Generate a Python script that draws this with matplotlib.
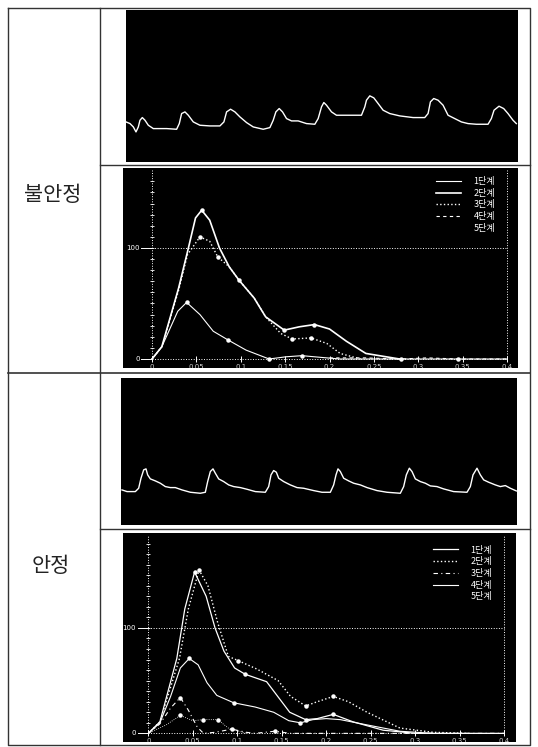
import numpy as np
import matplotlib
matplotlib.use("Agg")
from matplotlib import pyplot as plt
from matplotlib.lines import Line2D

plt.rcParams['font.family'] = ['Noto Sans CJK KR', 'DejaVu Sans']

W, H = 538, 747

# row labels
row_labels = ["불안정", "안정"]
stage_labels = ["1단계", "2단계", "3단계", "4단계", "5단계"]
x_tick_labels = ["0", "0.05", "0.1", "0.15", "0.2", "0.25", "0.3", "0.35", "0.4"]

# pulse wave, unstable (samples, amplitude)
t_wave1 = [78, 90, 100, 108, 115, 120, 127, 135, 145, 160, 175, 200, 230, 238, 245, 255, 265, 280,
           300, 330, 360, 372, 380, 392, 405, 420, 440, 460, 490, 510, 520, 528, 538, 548, 560, 575,
           595, 620, 645, 655, 665, 672, 680, 695, 710, 730, 760, 785, 795, 800, 810, 822, 835, 850,
           870, 900, 940, 975, 985, 992, 1002, 1015, 1030, 1045, 1065, 1085, 1105, 1130, 1165, 1175,
           1183, 1198, 1212, 1225, 1240, 1250]
a_wave1 = [120, 115, 105, 90, 105, 125, 133, 125, 110, 100, 100, 100, 98, 115, 145, 150, 140, 120,
           110, 108, 108, 120, 150, 158, 150, 135, 118, 105, 98, 103, 125, 150, 160, 150, 130, 123,
           123, 115, 113, 130, 165, 178, 170, 150, 140, 140, 140, 140, 165, 185, 198, 192, 175, 155,
           145, 138, 133, 133, 145, 180, 190, 185, 170, 140, 130, 120, 115, 113, 113, 130,
           155, 167, 160, 145, 125, 115]

# pulse wave, stable
t_wave2 = [65, 80, 105, 115, 122, 130, 137, 142, 150, 165, 180, 195, 210, 225, 245, 270, 300, 315,
           322, 330, 338, 345, 355, 370, 385, 400, 420, 440, 465, 495, 505, 512, 520, 528, 535, 550,
           570, 590, 610, 640, 665, 690, 700, 707, 713, 720, 730, 745, 760, 780, 800, 830, 860, 900,
           910, 918, 927, 935, 945, 960, 975, 990, 1010, 1030, 1060, 1100, 1110, 1118, 1130, 1140,
           1150, 1165, 1185, 1200, 1215, 1230, 1248]
a_wave2 = [105, 100, 100, 110, 140, 165, 168, 150, 138, 132, 125, 115, 112, 112, 105, 98, 95, 98,
           130, 160, 168, 155, 138, 130, 120, 115, 112, 107, 100, 98, 115, 150, 163, 158, 140, 130,
           120, 112, 110, 103, 98, 98, 120, 150, 168, 160, 140, 132, 125, 120, 112, 103, 98, 95,
           115, 150, 170, 160, 138, 130, 125, 117, 115, 108, 100, 98, 115, 150, 170, 150,
           135, 128, 120, 115, 118, 110, 102]

# spectrum, unstable
u1_x = [0, 0.011, 0.029, 0.039, 0.054, 0.069, 0.086, 0.106, 0.132, 0.151, 0.169, 0.197, 0.212, 0.40]
u1_y = [0, 11, 43, 51, 40, 25, 17, 8, 0, 2, 3, 1, 0, 0]
u2_x = [0, 0.011, 0.030, 0.041, 0.049, 0.056, 0.065, 0.076, 0.087, 0.098, 0.115, 0.128, 0.149,
        0.166, 0.183, 0.200, 0.219, 0.241, 0.279]
u2_y = [0, 11, 64, 100, 127, 134, 125, 100, 83, 71, 55, 38, 26, 29, 31, 27, 16, 5, 0]
u3_x = [0, 0.011, 0.030, 0.040, 0.054, 0.065, 0.074, 0.087, 0.098, 0.115, 0.128, 0.145, 0.158,
        0.179, 0.197, 0.212, 0.235]
u3_y = [0, 11, 62, 94, 110, 106, 92, 83, 71, 55, 38, 23, 18, 19, 14, 5, 0]
u4_x = [0.20, 0.24, 0.28, 0.31, 0.345, 0.40]
u4_y = [1, 1, 0, 1, 0, 0]

# spectrum, stable
s1_x = [0, 0.013, 0.032, 0.041, 0.052, 0.065, 0.075, 0.085, 0.097, 0.109, 0.133, 0.159, 0.177,
        0.190, 0.208, 0.230, 0.264, 0.30, 0.40]
s1_y = [0, 11, 71, 118, 153, 130, 100, 78, 62, 56, 49, 20, 13, 14, 18, 11, 3, 0, 0]
s2_x = [0, 0.013, 0.035, 0.045, 0.057, 0.067, 0.078, 0.090, 0.101, 0.122, 0.146, 0.160, 0.177,
        0.190, 0.208, 0.225, 0.246, 0.283, 0.32, 0.36]
s2_y = [0, 11, 71, 118, 155, 140, 105, 73, 69, 61, 50, 35, 26, 30, 35, 30, 20, 5, 1, 0]
s3_x = [0, 0.013, 0.025, 0.036, 0.045, 0.055, 0.062, 0.075, 0.094, 0.110, 0.120, 0.142, 0.160, 0.40]
s3_y = [0, 9, 24, 34, 22, 6, 0, 1, 4, 1, 0, 2, 0, 0]
s4_x = [0, 0.013, 0.025, 0.036, 0.046, 0.056, 0.066, 0.077, 0.096, 0.120, 0.141, 0.158, 0.171,
        0.185, 0.200, 0.216, 0.246, 0.283, 0.32]
s4_y = [0, 10, 35, 62, 71, 65, 48, 36, 29, 25, 20, 12, 10, 13, 14, 13, 8, 2, 0]
s5_x = [0, 0.020, 0.036, 0.050, 0.062, 0.078, 0.090, 0.110]
s5_y = [0, 8, 17, 12, 13, 13, 5, 0]


def px_rect(x0, y0, x1, y1):
    return [x0 / W, 1 - y1 / H, (x1 - x0) / W, (y1 - y0) / H]


def wave_panel(fig, rect, t, a, xlim, ylim):
    ax = fig.add_axes(rect)
    ax.set_facecolor("black")
    ax.plot(t, a, color="white", lw=1.0)
    ax.set_xlim(*xlim)
    ax.set_ylim(*ylim)
    ax.set_xticks([])
    ax.set_yticks([])
    for s in ax.spines.values():
        s.set_visible(False)
    return ax


def spectrum_panel(fig, rect, series, xlim, ylim, leg_anchor):
    ax = fig.add_axes(rect)
    ax.set_facecolor("black")
    ax.set_xlim(*xlim)
    ax.set_ylim(*ylim)
    ax.set_xticks([])
    ax.set_yticks([])
    for s in ax.spines.values():
        s.set_visible(False)

    # axes frame drawn in the old plotter style
    top = ylim[1] - 2
    ax.plot([0, 0], [0, top], color="white", lw=0.7, ls=":")
    ax.plot([0.4, 0.4], [0, top], color="white", lw=0.7, ls=":")
    ax.plot([0, 0.4], [0, 0], color="white", lw=0.7, ls=":")
    ax.plot([0, 0.4], [100, 100], color="white", lw=0.7, ls=":")
    yt = np.arange(10, top, 10)
    ax.plot(np.zeros_like(yt), yt, ls="none", marker="_", ms=2.5, color="white", mew=0.6)
    xt = np.arange(0, 0.401, 0.05)
    ax.plot(xt, np.zeros_like(xt), ls="none", marker="|", ms=5, color="white", mew=0.7)
    ax.plot([-0.012, 0], [100, 100], color="white", lw=0.7)
    ax.plot([-0.012, 0], [0, 0], color="white", lw=0.7)
    ax.text(-0.014, 100, "100", color="white", fontsize=5, ha="right", va="center",
            family="DejaVu Sans")
    ax.text(-0.014, 0, "0", color="white", fontsize=5, ha="right", va="center",
            family="DejaVu Sans")
    for xv, lab in zip(xt, x_tick_labels):
        ax.text(xv, ylim[0] + 1, lab, color="#cccccc", fontsize=5, ha="center", va="center",
                family="DejaVu Sans", clip_on=True)

    handles = []
    for xs, ys, ls, lw, marks, lab, show in series:
        if xs:
            ax.plot(xs, ys, color="white", ls=ls, lw=lw, marker="o", ms=2.2,
                    markevery=marks, mfc="white", mec="white")
        handles.append(Line2D([], [], color="white" if show else "black",
                              ls=ls if ls != "none" else "-", lw=lw, label=lab))
    leg = ax.legend(handles=handles, loc="upper right", bbox_to_anchor=leg_anchor,
                    frameon=False, fontsize=6.5, handlelength=2.7, handletextpad=1.4,
                    labelspacing=0.3, borderaxespad=0, borderpad=0)
    for txt in leg.get_texts():
        txt.set_color("white")
    return ax


fig = plt.figure(figsize=(W / 100, H / 100), dpi=100)
fig.patch.set_facecolor("white")

bg = fig.add_axes([0, 0, 1, 1])
bg.set_xlim(0, W)
bg.set_ylim(H, 0)
bg.axis("off")
lc = "#333333"
bg.plot([8, 530, 530, 8, 8], [8, 8, 745, 745, 8], color=lc, lw=1.0)
bg.plot([100, 100], [8, 745], color=lc, lw=1.0)
bg.plot([8, 530], [373, 373], color=lc, lw=1.2)
bg.plot([100, 530], [165, 165], color=lc, lw=1.0)
bg.plot([100, 530], [529, 529], color=lc, lw=1.0)
bg.text(53, 195, row_labels[0], fontsize=15, ha="center", va="center", color="#222222")
bg.text(51, 566, row_labels[1], fontsize=15, ha="center", va="center", color="#222222")

wave_panel(fig, px_rect(126, 10, 518, 162), t_wave1, a_wave1, (78, 1255), (0, 455))
wave_panel(fig, px_rect(121, 378, 517, 525), t_wave2, a_wave2, (62, 1250), (0, 440))

series_u = [
    (u1_x, u1_y, "-", 0.8, [3, 6, 8, 10], stage_labels[0], True),
    (u2_x, u2_y, "-", 1.2, [5, 9, 12, 14], stage_labels[1], True),
    (u3_x, u3_y, ":", 1.0, [4, 6, 12, 13], stage_labels[2], True),
    (u4_x, u4_y, (0, (3, 3)), 0.8, [2, 4], stage_labels[3], True),
    ([], [], "none", 0.8, None, stage_labels[4], False),
]
spectrum_panel(fig, px_rect(123, 168, 518, 368), series_u, (-0.0327, 0.4124), (-8.1, 172),
               (0.942, 0.955))

series_s = [
    (s1_x, s1_y, "-", 0.9, [4, 9, 12, 14], stage_labels[0], True),
    (s2_x, s2_y, ":", 1.0, [4, 8, 12, 14], stage_labels[1], True),
    (s3_x, s3_y, (0, (4, 3, 1, 3)), 0.8, [3, 8, 11], stage_labels[2], True),
    (s4_x, s4_y, "-", 0.8, [4, 8, 12], stage_labels[3], True),
    (s5_x, s5_y, ":", 0.6, [2, 4, 5], stage_labels[4], False),
]
spectrum_panel(fig, px_rect(123, 533, 516, 742), series_s, (-0.0285, 0.4135), (-8.2, 190),
               (0.939, 0.94))

fig.savefig("out.png", dpi=100)
